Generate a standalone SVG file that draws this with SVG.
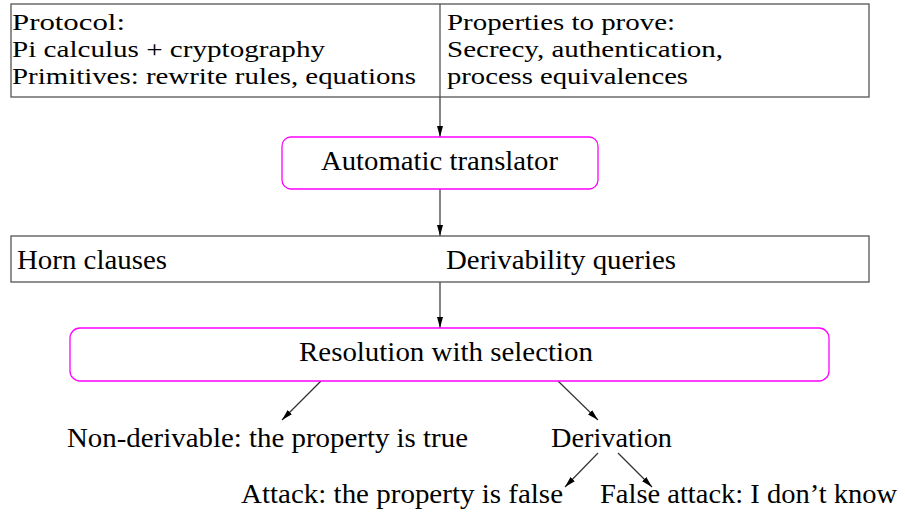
<svg xmlns="http://www.w3.org/2000/svg" width="905" height="516" viewBox="0 0 905 516">
<defs>
<marker id="ah" viewBox="0 0 10 10" refX="10" refY="5" markerWidth="11" markerHeight="11" markerUnits="userSpaceOnUse" orient="auto">
<path d="M0,2.3 L10,5 L0,7.7 Z" fill="#000"/>
</marker>
</defs>
<style>
text{font-family:'Liberation Serif','DejaVu Serif',serif;font-size:27px;fill:#000}
.s{font-size:24px}
.box{fill:#fff;stroke:#555;stroke-width:1.3}
.rbox{fill:#fff;stroke:#ff00ff;stroke-width:1.3}
.c{stroke:#333;stroke-width:1.2;fill:none;marker-end:url(#ah)}
</style>
<g id="connectors">
<line class="c" x1="440" y1="97" x2="440" y2="137"/>
<line class="c" x1="440" y1="189" x2="440" y2="236"/>
<line class="c" x1="440" y1="236" x2="440" y2="328"/>
<line class="c" x1="321" y1="381" x2="282" y2="420"/>
<line class="c" x1="558" y1="381" x2="598" y2="420"/>
<line class="c" x1="598" y1="453" x2="565" y2="487"/>
<line class="c" x1="618" y1="453" x2="652" y2="487"/>
</g>
<g id="top" font-family="Liberation Serif">
<rect class="box" x="11" y="4" width="858" height="93"/>
<line x1="440" y1="4" x2="440" y2="97" stroke="#555" stroke-width="1.3"/>
<text class="s" x="12" y="30" textLength="113" lengthAdjust="spacingAndGlyphs">Protocol:</text>
<text class="s" x="12" y="57" textLength="313" lengthAdjust="spacingAndGlyphs">Pi calculus + cryptography</text>
<text class="s" x="12" y="84" textLength="404" lengthAdjust="spacingAndGlyphs">Primitives: rewrite rules, equations</text>
<text class="s" x="447" y="30" textLength="228" lengthAdjust="spacingAndGlyphs">Properties to prove:</text>
<text class="s" x="447" y="57" textLength="276" lengthAdjust="spacingAndGlyphs">Secrecy, authentication,</text>
<text class="s" x="447" y="84" textLength="241" lengthAdjust="spacingAndGlyphs">process equivalences</text>
</g>
<g id="translator">
<rect class="rbox" x="282" y="137" width="316" height="52" rx="9"/>
<text x="321" y="170" textLength="237" lengthAdjust="spacingAndGlyphs">Automatic translator</text>
</g>
<g id="clauses">
<rect class="box" x="11" y="236" width="858" height="46"/>
<text x="17" y="269" textLength="150" lengthAdjust="spacingAndGlyphs">Horn clauses</text>
<text x="446" y="269" textLength="230" lengthAdjust="spacingAndGlyphs">Derivability queries</text>
</g>
<g id="resolution">
<rect class="rbox" x="70" y="328" width="759" height="53" rx="10"/>
<text x="299" y="361" textLength="294" lengthAdjust="spacingAndGlyphs">Resolution with selection</text>
</g>
<g id="nonderivable"><text x="67" y="447" textLength="401" lengthAdjust="spacingAndGlyphs">Non-derivable: the property is true</text></g>
<g id="derivation"><text x="551" y="447" textLength="121" lengthAdjust="spacingAndGlyphs">Derivation</text></g>
<g id="attack"><text x="241" y="503" textLength="322" lengthAdjust="spacingAndGlyphs">Attack: the property is false</text></g>
<g id="falseattack"><text x="600" y="503" textLength="297" lengthAdjust="spacingAndGlyphs">False attack: I don’t know</text></g>
</svg>
